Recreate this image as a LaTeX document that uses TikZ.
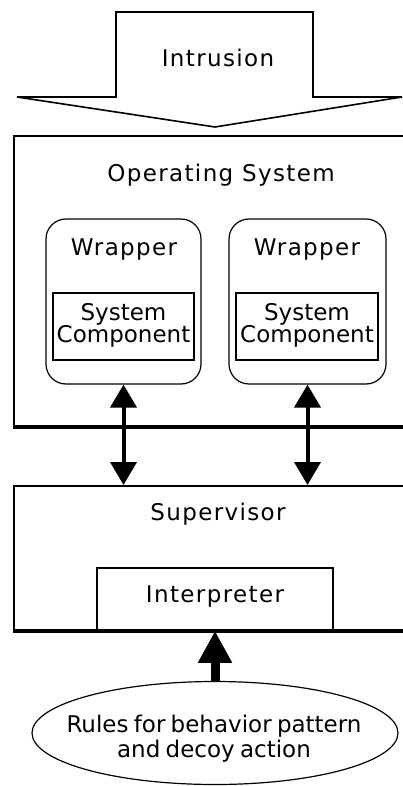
\documentclass[tikz,border=0pt]{standalone}
\usepackage{fontspec}
\setmainfont{DejaVu Sans}[LetterSpace=6]
\newfontfamily\compfont{DejaVu Sans}
\newfontfamily\rulesfont{DejaVu Sans}[WordSpace=0.85]
\usetikzlibrary{arrows.meta, shapes.geometric, fit}

\tikzset{
  txt/.style={anchor=base, inner sep=0pt},
  layer/.style={draw, line width=2pt, inner sep=0pt},
  wrapbox/.style={draw, rounded corners=20pt, line width=1.2pt, inner sep=0pt},
  compbox/.style={draw, line width=1.6pt, inner sep=0pt},
  comptxt/.style={txt, font=\compfont\fontsize{23}{24}\selectfont},
  rulestxt/.style={txt, font=\rulesfont\fontsize{23}{24}\selectfont},
  dbl/.style={line width=4pt,
    {Triangle[width=26pt,length=23pt]}-{Triangle[width=26pt,length=23pt]}},
  feed/.style={line width=9pt, -{Triangle[width=32pt,length=32pt]}},
}

\begin{document}
\begin{tikzpicture}[x=1pt, y=-1pt, font=\fontsize{23}{24}\selectfont]
\useasboundingbox (0,0) rectangle (403,786);
\clip (0,0) rectangle (403,786);

% incoming intrusion: flat block arrow
\draw[line width=1.6pt, line join=miter]
  (116,97) -- (116,12) -- (313,12) -- (313,97) -- (402,97)
  -- (215,127) -- (17,97) -- cycle;
\node[txt] (intr) at (218,67) {Intrusion};

% operating system layer (open to the right)
\node[layer, fit={(14,136) (420,426)}] (os) {};
\draw[line width=3pt] (os.south west) -- (os.south east);
\node[txt] (oslbl) at (221,182) {Operating System};

% wrappers with their components
\node[wrapbox, fit={(46,219) (201,384)}] (w1) {};
\node[txt] (w1lbl) at (124,255) {Wrapper};
\node[compbox, fit={(53,293) (194,360)}] (c1) {};
\node[comptxt] (c1a) at (c1.center |- 0,320) {System};
\node[comptxt] (c1b) at (c1.center |- 0,342) {Component};

\node[wrapbox, fit={(229,219) (386,384)}] (w2) {};
\node[txt] (w2lbl) at (307,255) {Wrapper};
\node[compbox, fit={(236,293) (378,360)}] (c2) {};
\node[comptxt] (c2a) at (c2.center |- 0,320) {System};
\node[comptxt] (c2b) at (c2.center |- 0,342) {Component};

% supervisor layer
\node[layer, fit={(14,486) (420,630)}] (sup) {};
\draw[line width=3pt] (sup.south west) -- (sup.south east);
\node[txt] (suplbl) at (218,520) {Supervisor};
\node[compbox, fit={(97,568) (333,630)}] (interp) {};
\node[txt] (interplbl) at (215,602) {Interpreter};

% rule base
\node[ellipse, draw, line width=1.2pt, minimum width=366pt, minimum height=103pt,
      inner sep=0pt] (rules) at (215,733) {};
\node[rulestxt] (r1) at (214,732) {Rules for behavior pattern};
\node[rulestxt] (r2) at (214,757) {and decoy action};

% connectors
\draw[dbl] (w1.south) -- (w1.south |- sup.north);
\draw[dbl] (w2.south) -- (w2.south |- sup.north);
\draw[feed] (rules.north) -- (rules.north |- interp.south);
\end{tikzpicture}
\end{document}
